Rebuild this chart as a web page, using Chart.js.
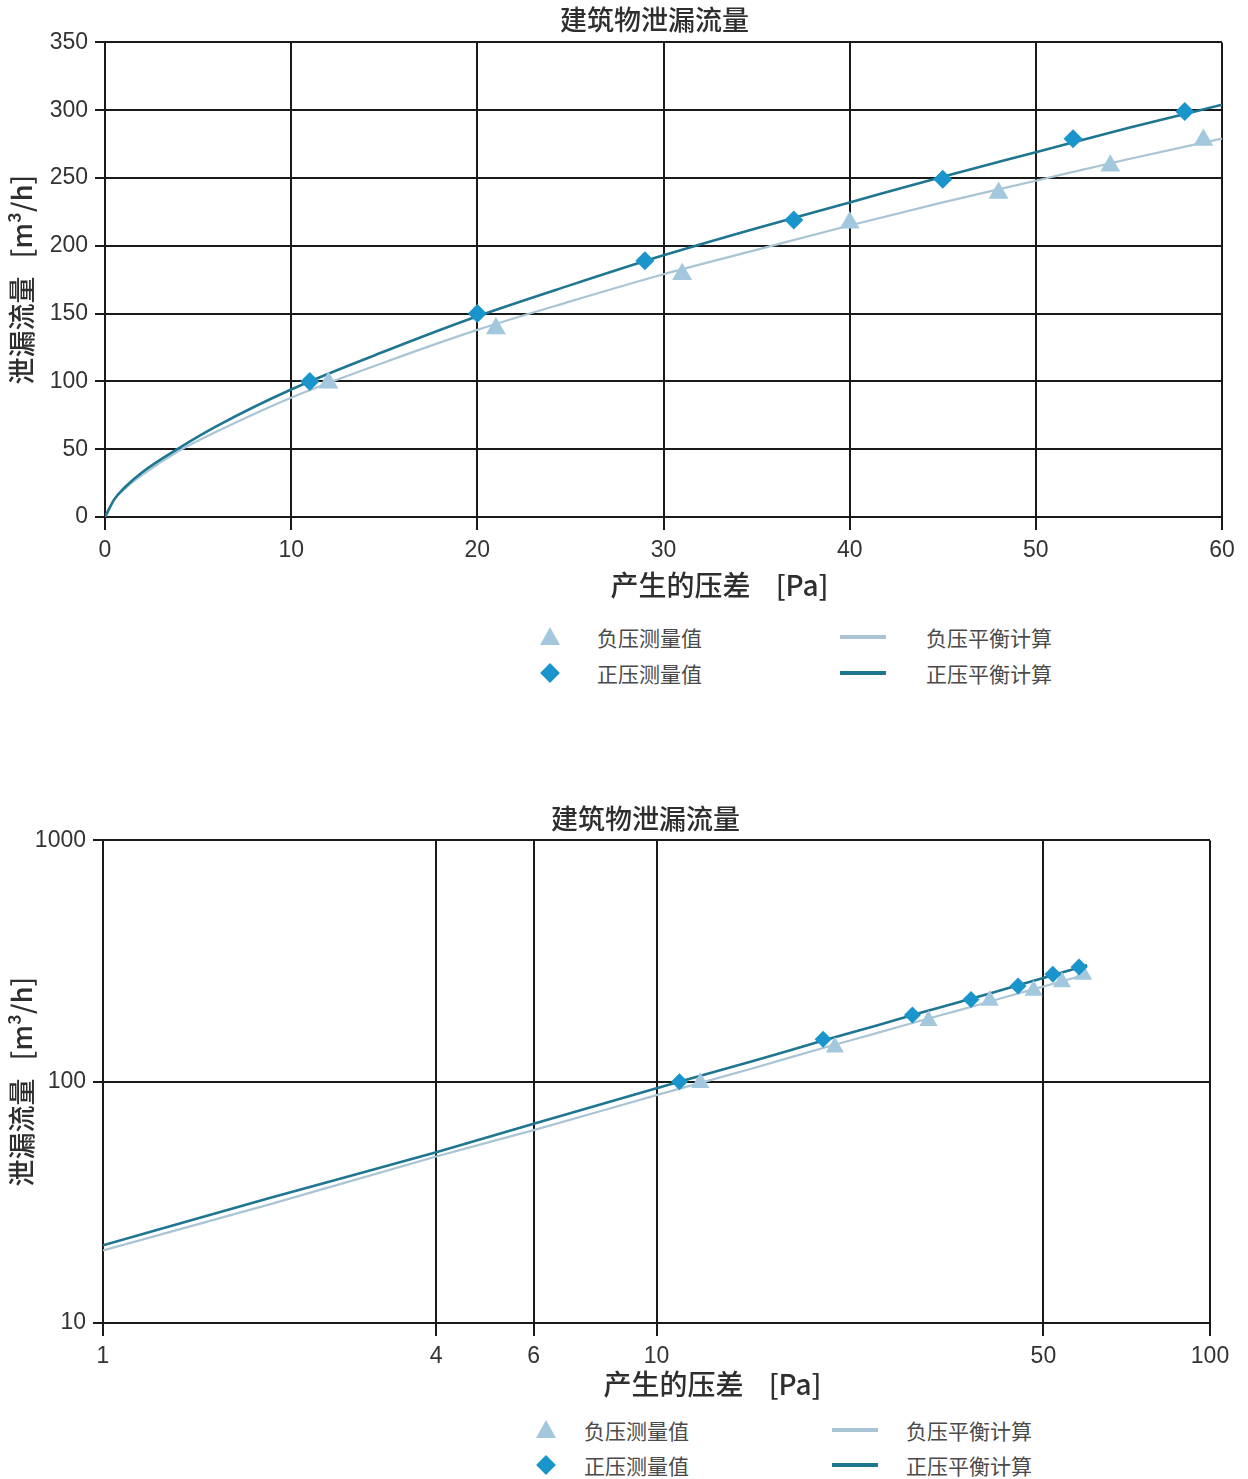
<!DOCTYPE html>
<html lang="zh-CN">
<head>
<meta charset="utf-8">
<title>建筑物泄漏流量</title>
<script src="https://cdn.jsdelivr.net/npm/chart.js@4.4.1/dist/chart.umd.min.js"></script>
<style>
  html, body { margin: 0; padding: 0; background: #fff; }
  body { width: 1248px; height: 1479px; position: relative; overflow: hidden; }
  canvas { position: absolute; left: 0; }
  .legend { position: absolute; left: 0; top: 0; width: 1248px; height: 1px; }
  .legend .mark { position: absolute; }
  .legend .txt {
    position: absolute; line-height: 28px; white-space: nowrap;
    font-family: "Noto Sans CJK SC", sans-serif; font-size: 21px; color: #4a4a4a;
  }
</style>
</head>
<body>
<canvas id="linChart" width="1248" height="602" style="top:0"></canvas>
<div class="legend" id="linLegend"></div>
<canvas id="logChart" width="1248" height="604" style="top:797px"></canvas>
<div class="legend" id="logLegend"></div>

<script>
// measured points
const posPressure = [11, 20, 29, 37, 45, 52, 58];
const posFlow = [100, 150, 189, 219, 249, 279, 299];
const negPressure = [12, 21, 31, 40, 48, 54, 59];
const negFlow = [99, 139, 179, 217, 239, 259, 278];

// balanced (fitted) curves
const fitPressure = [0, 0.5, 1, 2, 4, 6, 10, 15, 20, 25, 30, 35, 40, 45, 50, 55, 60];
const posFitFlow = [0, 13, 21, 33, 51, 67, 94, 122, 148, 171, 193, 213, 232, 251, 269, 287, 304];
const negFitFlow = [0, 13, 20, 31, 49, 63, 88, 114, 138, 159, 179, 197, 215, 232, 248, 264, 279];

// tick labels
const xTicksLin = [0, 10, 20, 30, 40, 50, 60];
const yTicksLin = [0, 50, 100, 150, 200, 250, 300, 350];
const xTicksLog = [1, 4, 6, 10, 50, 100];
const yTicksLog = [10, 100, 1000];

const chartTitle = '建筑物泄漏流量';
const xTitle = '\u3000\u3000\u3000\u3000产生的压差    [Pa]';
const yTitle = '泄漏流量   [m³/h]';
const labels = ['负压测量值', '正压测量值', '负压平衡计算', '正压平衡计算'];

const CJK = '"Noto Sans CJK SC", "Liberation Sans", sans-serif';
const NUM = '"Liberation Sans", Arial, sans-serif';
const INK = '#1a1a1a';

const colors = {
  triangle: '#a3c8de',
  diamond: '#1a95cb',
  lightLine: '#a9c5d5',
  darkLine: '#1e7690'
};

function pairs(xs, ys, minX) {
  return xs.map((x, i) => ({ x: x, y: ys[i] })).filter(p => p.x >= minX);
}

function buildDatasets(minX, pr) {
  return [
    {
      label: labels[0], data: pairs(negPressure, negFlow, minX), showLine: false,
      pointStyle: 'triangle', pointRadius: pr.tri, backgroundColor: colors.triangle,
      borderColor: colors.triangle, borderWidth: 0, order: 1
    },
    {
      label: labels[1], data: pairs(posPressure, posFlow, minX), showLine: false,
      pointStyle: 'rectRot', pointRadius: pr.dia, backgroundColor: colors.diamond,
      borderColor: colors.diamond, borderWidth: 0, order: 0
    },
    {
      label: labels[2], data: pairs(fitPressure, negFitFlow, minX), pointRadius: 0,
      borderColor: colors.lightLine, backgroundColor: colors.lightLine, borderWidth: 2.2,
      cubicInterpolationMode: 'monotone', order: 3
    },
    {
      label: labels[3], data: pairs(fitPressure, posFitFlow, minX), pointRadius: 0,
      borderColor: colors.darkLine, backgroundColor: colors.darkLine, borderWidth: 2.6,
      cubicInterpolationMode: 'monotone', order: 2
    }
  ];
}

function makeChart(canvas, cfg) {
  const grid = { color: INK, lineWidth: 2, tickColor: INK, drawTicks: true };
  return new Chart(canvas, {
    type: 'line',
    data: { datasets: buildDatasets(cfg.minX, cfg.pointSize) },
    options: {
      responsive: false,
      animation: false,
      events: [],
      layout: { padding: { left: 0, right: cfg.padRight, top: 0, bottom: 0 } },
      plugins: {
        legend: { display: false },
        tooltip: { enabled: false },
        title: {
          display: true, text: cfg.titleLead + chartTitle, color: '#2e2e2e',
          font: { family: CJK, size: 27, weight: '500', lineHeight: 1.2 },
          padding: cfg.titlePad
        }
      },
      scales: {
        x: {
          type: cfg.xType, min: cfg.xTicks[0], max: cfg.xTicks[cfg.xTicks.length - 1],
          afterBuildTicks: s => { s.ticks = cfg.xTicks.map(v => ({ value: v })); },
          afterFit: s => { s.height = cfg.xHeight; },
          grid: Object.assign({ tickLength: 13 }, grid),
          border: { display: true, color: INK, width: 2 },
          ticks: {
            autoSkip: false, maxRotation: 0, padding: 7, color: '#333',
            font: { family: NUM, size: 23 },
            callback: v => String(v)
          },
          title: {
            display: true, text: xTitle, color: '#2e2e2e',
            font: { family: CJK, size: 28, weight: '500', lineHeight: 1.2 },
            padding: { top: 0, bottom: 0 }
          }
        },
        y: {
          type: cfg.yType, min: cfg.yTicks[0], max: cfg.yTicks[cfg.yTicks.length - 1],
          afterBuildTicks: s => { s.ticks = cfg.yTicks.map(v => ({ value: v })); },
          afterFit: s => { s.width = cfg.yWidth; },
          grid: Object.assign({ tickLength: 10 }, grid),
          border: { display: true, color: INK, width: 2 },
          ticks: {
            autoSkip: false, padding: 7, color: '#333',
            font: { family: NUM, size: 23 },
            callback: v => String(v)
          },
          title: {
            display: true, text: yTitle, color: '#2e2e2e',
            font: { family: CJK, size: 27, weight: '500', lineHeight: 1.2 },
            padding: { top: 6, bottom: 0 }
          }
        }
      }
    }
  });
}

// html legend: two rows (negative / positive), two columns (measured / fitted)
function buildLegend(chart, el, pos) {
  chart.data.datasets.forEach((d, i) => {
    const row = i % 2, col = Math.floor(i / 2);
    const y = pos.top + row * pos.rowGap;
    const mark = document.createElement('div');
    mark.className = 'mark';
    if (d.pointStyle === 'triangle') {
      mark.style.cssText = `left:${pos.markX - 10}px;top:${y - 10}px;width:0;height:0;` +
        `border-left:10px solid transparent;border-right:10px solid transparent;` +
        `border-bottom:18px solid ${d.backgroundColor}`;
    } else if (d.pointStyle === 'rectRot') {
      mark.style.cssText = `left:${pos.markX - 7}px;top:${y - 7}px;width:14px;height:14px;` +
        `background:${d.backgroundColor};transform:rotate(45deg)`;
    } else {
      mark.style.cssText = `left:${pos.lineX}px;top:${y - 2}px;width:46px;height:4px;` +
        `background:${d.borderColor}`;
    }
    el.appendChild(mark);
    const txt = document.createElement('span');
    txt.className = 'txt';
    txt.textContent = d.label;
    txt.style.left = (col ? pos.lineTextX : pos.textX) + 'px';
    txt.style.top = (y - 14) + 'px';
    el.appendChild(txt);
  });
}

const linChart = makeChart(document.getElementById('linChart'), {
  xType: 'linear', yType: 'linear', minX: 0,
  xTicks: xTicksLin, yTicks: yTicksLin,
  titleLead: '\u3000\u3000\u3000 ',
  titlePad: { top: 4, bottom: 6 },
  xHeight: 602 - 517, yWidth: 105, padRight: 26,
  pointSize: { tri: 11.5, dia: 9.5 }
});

const logChart = makeChart(document.getElementById('logChart'), {
  xType: 'logarithmic', yType: 'logarithmic', minX: 1,
  xTicks: xTicksLog, yTicks: yTicksLog,
  titleLead: '\u3000\u3000\u3000',
  titlePad: { top: 6, bottom: 5 },
  xHeight: 604 - 526, yWidth: 103, padRight: 38,
  pointSize: { tri: 10.5, dia: 8.5 }
});

buildLegend(linChart, document.getElementById('linLegend'),
  { top: 637, rowGap: 36, markX: 550, textX: 597, lineX: 840, lineTextX: 926 });
buildLegend(logChart, document.getElementById('logLegend'),
  { top: 1430, rowGap: 35, markX: 546, textX: 584, lineX: 832, lineTextX: 906 });
</script>
</body>
</html>
